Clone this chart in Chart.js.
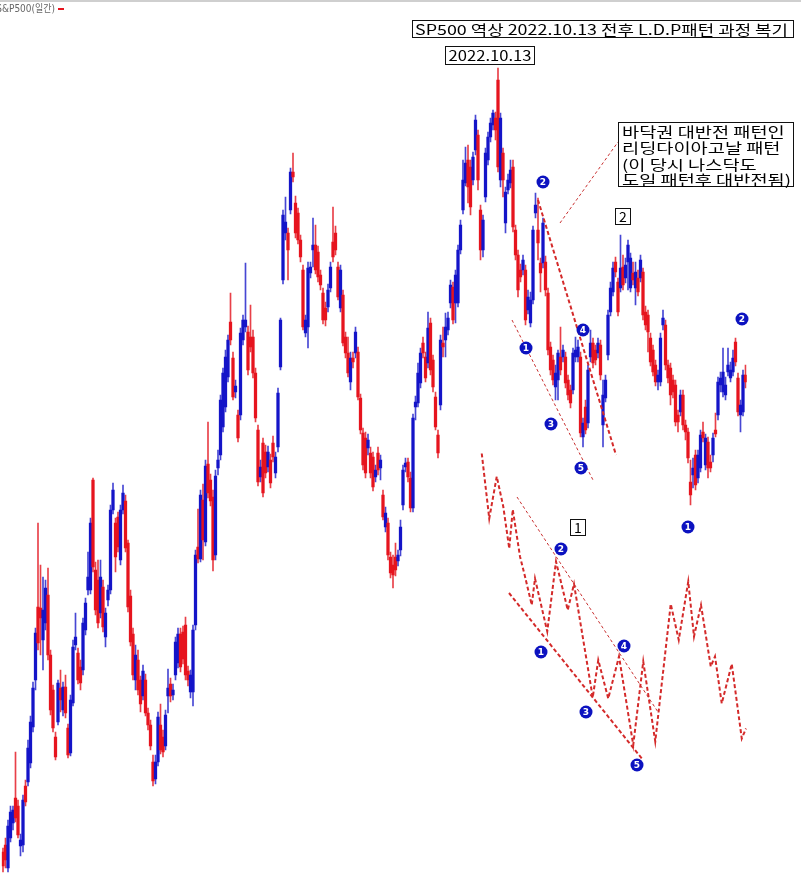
<!DOCTYPE html>
<html><head><meta charset="utf-8">
<script src="https://cdn.jsdelivr.net/npm/chart.js@4/dist/chart.umd.min.js"></script>
<style>html,body{margin:0;padding:0;background:#fff;overflow:hidden}canvas{display:block}</style>
</head><body>
<canvas id="c" width="801" height="882"></canvas>
<script>
// S&P500 daily candles, drawn on an inverted (역상) price axis
const opens = [
5044,5030,5076,5016,4986,4936,4952,5032,5030,4912,
4904,4866,4794,4700,4554,4556,4620,4586,4530,4650,
4720,4814,4784,4716,4760,4714,4796,4846,4746,4630,
4646,4674,4680,4600,4520,4520,4300,4480,4500,4566,
4514,4614,4540,4520,4360,4386,4374,4460,4360,4342,
4426,4532,4608,4700,4660,4700,4732,4700,4766,4790,
4864,4898,4864,4790,4814,4832,4732,4708,4730,4690,
4666,4608,4604,4590,4682,4724,4724,4590,4434,4458,
4340,4424,4268,4300,4334,4450,4276,4250,4194,4154,
4094,3984,4056,4124,4170,4170,4020,3994,4004,4014,
4014,4086,4200,4294,4226,4244,4274,4260,4226,4286,
4234,4074,3900,3806,3806,3760,3684,3746,3766,3820,
3880,4006,3994,3886,3840,3830,3844,3890,3926,3956,
3954,3916,3824,3806,3874,3956,3930,4014,4046,4104,
4056,4046,4044,4136,4206,4216,4236,4246,4254,4294,
4246,4276,4330,4394,4386,4454,4470,4454,4462,4440,
4350,4274,4264,4296,4356,4154,4146,4106,4026,4054,
4066,3986,4060,4134,4210,4150,4026,4020,4000,3946,
3914,3946,3946,3840,3760,3706,3660,3674,3700,3640,
3610,3760,3840,3734,3660,3614,3590,3576,3500,3700,
3646,3786,3720,3706,3674,3800,3850,3880,3880,3880,
3960,3986,3940,3766,3800,3866,3866,3864,3926,4034,
4060,4114,4100,4054,4054,4054,4100,4120,4120,4054,
4054,4054,4214,4154,4186,4054,4026,4040,4046,4030,
4190,4136,4050,3964,3924,3864,3904,3916,3874,3896,
3864,3916,3886,3916,3896,3896,3884,3964,3970,4016,
4040,4070,4104,4104,3990,3990,4070,4076,4100,4110,
4170,4164,4130,4190,4204,4304,4290,4250,4296,4276,
4204,4270,4224,4264,4250,4200,4170,4110,4124,4130,
4084,4096,4084,4024,4096,4170,4164,4090];
const closes = [
5072,5060,4992,4964,4960,4976,5010,5020,4940,4944,
4836,4784,4716,4606,4626,4576,4560,4516,4650,4760,
4796,4854,4706,4740,4714,4766,4850,4740,4634,4614,
4700,4706,4586,4546,4494,4386,4474,4560,4586,4494,
4594,4566,4520,4360,4320,4454,4434,4360,4326,4436,
4554,4624,4690,4650,4720,4748,4682,4766,4790,4832,
4902,4864,4774,4840,4844,4770,4716,4732,4720,4624,
4608,4674,4658,4690,4700,4690,4600,4450,4458,4330,
4420,4272,4326,4342,4460,4292,4260,4140,4086,4054,
4020,4020,4134,4112,4216,4006,3980,3980,4080,4034,
4086,4176,4304,4274,4326,4286,4244,4306,4254,4254,
4126,3980,3770,3784,3840,3684,3694,3806,3820,3854,
3994,3980,3876,3874,3830,3880,3894,3910,3980,3980,
3920,3874,3854,3840,3934,3880,4026,4046,4086,4056,
4064,4004,4134,4200,4270,4286,4220,4286,4314,4280,
4280,4260,4374,4366,4450,4486,4490,4480,4450,4394,
4280,4266,4294,4356,4176,4144,4086,4046,4046,4096,
3996,4080,4114,4194,4246,4020,4034,3994,3976,3910,
3980,3890,3840,3790,3700,3666,3714,3754,3654,3580,
3700,3840,3780,3646,3614,3586,3566,3600,3674,3576,
3700,3724,3700,3680,3794,3850,3920,3894,3860,3980,
3934,3940,3800,3750,3826,3886,3786,3920,4040,4080,
4100,4086,4046,4080,4040,4106,4130,4146,4046,4040,
4034,4206,4186,4200,4080,4026,4066,4060,4026,4090,
4130,4100,3970,3916,3876,3884,3964,3876,3910,3870,
3830,3856,3900,3884,3924,3860,3970,3990,4004,4064,
4084,4104,4090,4016,3976,4070,4096,4130,4124,4184,
4184,4130,4190,4204,4256,4330,4276,4310,4250,4210,
4216,4216,4276,4276,4216,4208,4104,4096,4084,4110,
4070,4080,4056,4064,4164,4150,4090,4104];
const lows = [
5036,5016,4980,4952,4952,4844,4940,5008,4930,4900,
4820,4772,4704,4596,4386,4470,4494,4500,4476,4640,
4710,4804,4700,4680,4704,4690,4788,4730,4620,4566,
4636,4660,4576,4536,4444,4376,4296,4464,4460,4460,
4500,4556,4510,4350,4306,4376,4364,4350,4310,4330,
4420,4520,4596,4630,4640,4692,4670,4688,4756,4780,
4850,4850,4764,4748,4800,4760,4678,4696,4708,4614,
4596,4596,4592,4574,4672,4680,4590,4440,4358,4320,
4308,4260,4184,4288,4320,4280,4240,4130,4076,4040,
4010,3926,4044,4100,4160,3996,3970,3866,3992,3950,
4000,4076,4190,4260,4216,4230,4232,4248,4212,4244,
4116,3976,3760,3734,3796,3676,3646,3732,3756,3810,
3870,3970,3864,3864,3776,3790,3832,3880,3916,3944,
3908,3864,3754,3792,3864,3870,3920,4004,4014,4044,
4044,3994,4034,4128,4196,4204,4208,4234,4244,4270,
4234,4250,4320,4354,4376,4444,4450,4426,4440,4380,
4270,4256,4256,4284,4168,4132,4066,4036,4014,4044,
3964,3976,4050,4124,4200,4010,3994,3966,3964,3900,
3904,3880,3830,3780,3660,3634,3630,3660,3644,3570,
3600,3750,3770,3636,3604,3576,3560,3564,3476,3566,
3636,3714,3688,3660,3660,3790,3840,3868,3850,3870,
3920,3924,3792,3726,3736,3856,3776,3852,3916,4024,
4050,4070,4040,3994,4030,4044,4090,4110,4036,4014,
4020,4044,4176,4140,4070,4000,4016,4030,4016,4020,
4100,4090,3960,3904,3864,3854,3896,3810,3850,3856,
3820,3846,3864,3864,3880,3850,3876,3952,3960,4006,
4030,4060,4080,4006,3960,3980,4060,4066,4090,4100,
4160,4120,4120,4180,4196,4260,4256,4240,4240,4200,
4184,4208,4214,4250,4206,4166,4094,4084,4036,4094,
4036,4064,4040,4016,4086,4140,4080,4070];
const highs = [
5084,5076,5084,5024,5000,4984,5016,5052,5044,4952,
4912,4876,4804,4720,4640,4650,4680,4600,4660,4770,
4804,4860,4790,4764,4772,4776,4856,4852,4752,4640,
4708,4720,4690,4610,4530,4528,4484,4570,4596,4576,
4604,4634,4552,4528,4368,4484,4444,4470,4368,4444,
4564,4632,4700,4720,4730,4764,4740,4772,4800,4840,
4912,4908,4872,4848,4854,4840,4766,4744,4740,4700,
4676,4684,4668,4700,4712,4736,4752,4600,4466,4464,
4460,4432,4336,4352,4482,4460,4290,4260,4204,4164,
4104,4030,4140,4136,4224,4180,4030,4004,4090,4044,
4096,4184,4312,4304,4334,4296,4284,4316,4264,4296,
4244,4080,3908,3820,3900,3768,3704,3816,3828,3864,
4000,4014,4036,3896,3874,3888,3904,3920,3988,3992,
3964,3924,3864,3850,3940,3964,4032,4056,4094,4120,
4076,4056,4140,4208,4280,4296,4250,4296,4322,4304,
4290,4300,4380,4404,4460,4496,4516,4492,4472,4452,
4360,4284,4304,4364,4364,4180,4154,4116,4056,4104,
4076,4090,4124,4200,4256,4160,4054,4054,4010,3956,
3988,3986,3954,3848,3768,3712,3746,3770,3710,3650,
3720,3860,3854,3744,3670,3624,3600,3620,3684,3714,
3734,3806,3728,3716,3804,3860,3934,3904,3890,3990,
3968,3994,3948,3776,3860,3924,3876,3932,4050,4090,
4110,4140,4140,4090,4064,4116,4140,4156,4128,4064,
4064,4214,4234,4208,4196,4064,4076,4070,4056,4100,
4234,4144,4060,3972,3932,3894,3972,3924,3920,3906,
3920,3924,3910,3950,3932,3904,3980,4000,4044,4072,
4092,4112,4120,4112,4000,4080,4106,4150,4136,4192,
4204,4172,4200,4220,4266,4350,4316,4320,4306,4284,
4224,4280,4296,4284,4264,4214,4180,4124,4134,4140,
4092,4104,4092,4072,4172,4204,4172,4116];

// annotation anchors (trading-day index, price)
const markerNums   = ['2','1','4','3','5','2','1','2','1','4','3','5'];
const markerDays   = [216,209.2,232,219.2,231.2,295.6,274,223.2,215.2,248.4,233.2,253.6];
const markerPrices = [3704,4036,4000,4188,4276,3978,4394,4438,4644,4632,4764,4870];
const trendFromDays   = [214,203.6,205.6,202.4,222.8];
const trendFromPrices = [3740,3980,4334,4526,3786];
const trendToDays     = [245.2,236,262,256,246];
const trendToPrices   = [4250,4300,4764,4860,3624];
const trendWidths     = [2,1,1,2,1];
const schemDays   = [191.5,194.5,197.5,200.1,202.5,203.9,206.8,208.8,211.5,212.8,217.7,221.2,225.9,228.4,235.9,238.1,242.1,246.4,252.1,256.1,260.9,267.1,270.3,274.1,276.4,279.2,283.1,284.8,287.5,291.5,295.5,297.2];
const schemPrices = [4247,4377,4293,4353,4437,4359,4453,4493,4550,4497,4603,4463,4560,4508,4735,4660,4737,4653,4830,4663,4823,4548,4620,4503,4613,4550,4673,4653,4747,4668,4817,4797];

const titleText = 'SP500 역상 2022.10.13 전후 L.D.P패턴 과정 복기';
const dateText = '2022.10.13';
const noteLines = ['바닥권 대반전 패턴인','리딩다이아고날 패턴','(이 당시 나스닥도','도일 패턴후 대반전됨)'];
const legendText = 'S&P500(일간)';

const RED = '#e6141e', BLUE = '#1414c8';
const up = opens.map((o,i) => closes[i] >= o);
const labels = opens.map((_, i) => i);

const KFONT = '"Noto Sans CJK KR","Noto Sans",sans-serif';
// draw text at given px size, stretched horizontally to a target width
function fitText(ctx, text, x, yMid, px, targetW, family) {
  ctx.font = px + 'px ' + family;
  const w = ctx.measureText(text).width;
  ctx.save();
  ctx.translate(x, yMid);
  ctx.scale(targetW / w, 1);
  ctx.textAlign = 'left'; ctx.textBaseline = 'middle';
  ctx.fillText(text, 0, 0);
  ctx.restore();
}

const overlay = {
  id: 'overlay',
  afterDatasetsDraw(chart) {
    const ctx = chart.ctx, xs = chart.scales.x, ys = chart.scales.y;
    const px = d => xs.getPixelForValue(d), py = p => ys.getPixelForValue(p);
    ctx.save();
    // top strip + legend
    ctx.fillStyle = '#cfcfcf'; ctx.fillRect(0, 0, 801, 2);
    ctx.font = '10px "DejaVu Sans",' + KFONT;
    const sW = ctx.measureText('S').width, fullW = ctx.measureText(legendText).width;
    const sc = 53 / (fullW - sW);
    ctx.fillStyle = '#666';
    fitText(ctx, legendText, 2 - sW * sc, 9.5, 10, fullW * sc, '"DejaVu Sans",' + KFONT);
    ctx.fillStyle = RED; ctx.fillRect(58, 8, 6, 2);

    // schematic dashed zigzag
    ctx.strokeStyle = '#d42a2a'; ctx.lineWidth = 2; ctx.setLineDash([4, 2.5]);
    ctx.beginPath();
    schemDays.forEach((d, i) => { const X = px(d), Y = py(schemPrices[i]); i ? ctx.lineTo(X, Y) : ctx.moveTo(X, Y); });
    ctx.stroke();
    // trend lines
    trendFromDays.forEach((d, i) => {
      ctx.lineWidth = trendWidths[i];
      ctx.setLineDash(trendWidths[i] > 1 ? [4, 2.5] : [3, 2.5]);
      ctx.strokeStyle = trendWidths[i] > 1 ? '#d42a2a' : '#c83030';
      ctx.beginPath();
      ctx.moveTo(px(d), py(trendFromPrices[i]));
      ctx.lineTo(px(trendToDays[i]), py(trendToPrices[i]));
      ctx.stroke();
    });
    ctx.setLineDash([]);

    // numbered markers
    markerNums.forEach((n, i) => {
      const X = px(markerDays[i]), Y = py(markerPrices[i]);
      ctx.fillStyle = '#0c12c0';
      ctx.beginPath(); ctx.arc(X, Y, 6.5, 0, Math.PI * 2); ctx.fill();
      ctx.fillStyle = '#fff'; ctx.font = 'bold 9px "DejaVu Sans",sans-serif';
      ctx.textAlign = 'center'; ctx.textBaseline = 'middle';
      ctx.fillText(n, X, Y + 0.5);
    });

    // boxes
    function box(x, y, w, h) {
      ctx.fillStyle = '#fff'; ctx.fillRect(x, y, w, h);
      ctx.strokeStyle = '#111'; ctx.lineWidth = 1; ctx.strokeRect(x + 0.5, y + 0.5, w, h);
    }
    box(412, 20, 381, 17);
    ctx.fillStyle = '#000';
    fitText(ctx, titleText, 415, 29.5, 14, 373, KFONT);

    box(445, 46, 89, 18);
    ctx.fillStyle = '#000';
    fitText(ctx, dateText, 448.5, 56, 14, 83, KFONT);

    box(618, 122, 175, 64);
    ctx.fillStyle = '#000';
    ctx.font = '14px ' + KFONT;
    const ref = ctx.measureText(noteLines[3]).width, k = 169 / ref;
    [131.5, 148, 164.5, 180].forEach((yy, i) => {
      ctx.font = '14px ' + KFONT;
      const w = ctx.measureText(noteLines[i]).width;
      fitText(ctx, noteLines[i], 622, yy, 14, w * k, KFONT);
    });

    ctx.font = '14px ' + KFONT; ctx.textAlign = 'center'; ctx.textBaseline = 'middle';
    box(615, 208, 15, 16); ctx.fillStyle = '#000'; ctx.fillText('2', 623, 217);
    box(570, 519, 15, 16); ctx.fillStyle = '#000'; ctx.fillText('1', 578, 528);
    ctx.restore();
  }
};

new Chart(document.getElementById('c'), {
  type: 'bar',
  data: {
    labels,
    datasets: [
      { label: 'body', data: opens.map((o, i) => [o, closes[i]]),
        backgroundColor: up.map(u => u ? RED : BLUE),
        barThickness: 2.6, minBarLength: 1, grouped: false, order: 0, borderWidth: 0 },
      { label: 'wick', data: lows.map((l, i) => [l, highs[i]]),
        backgroundColor: up.map(u => u ? 'rgba(228,30,40,0.85)' : 'rgba(25,25,200,0.8)'),
        barThickness: 1, grouped: false, order: 1, borderWidth: 0 }
    ]
  },
  options: {
    responsive: false, animation: false, devicePixelRatio: 1,
    layout: { padding: { left: 1.75, right: 54.25, top: 0, bottom: 0 } },
    plugins: { legend: { display: false }, tooltip: { enabled: false } },
    scales: {
      x: { display: false, offset: true, grid: { display: false } },
      y: { display: false, reverse: true, min: 3340, max: 5104, grid: { display: false } }
    }
  },
  plugins: [overlay]
});
</script>
</body></html>
